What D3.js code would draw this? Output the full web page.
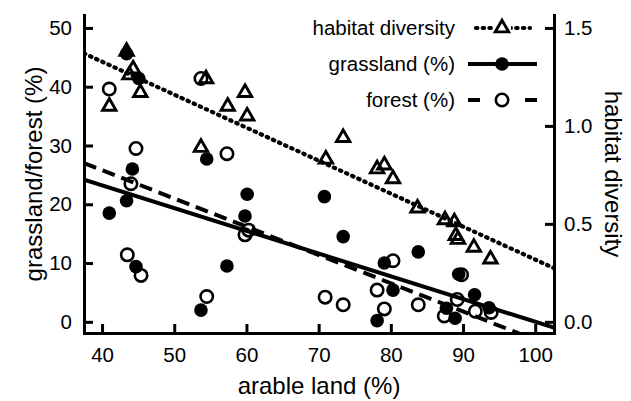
<!DOCTYPE html>
<html>
<head>
<meta charset="utf-8">
<script src="https://cdn.jsdelivr.net/npm/d3@7"></script>
<style>
  body { margin: 0; background: #fff; }
  svg text { font-family: "Liberation Sans", Arial, sans-serif; fill: #000; }
</style>
</head>
<body>
<div id="container"></div>
<script>
// arable land (%) vs habitat diversity (right axis)
var diversity = [
  [41.0, 1.10], [43.4, 1.38], [43.8, 1.26], [44.3, 1.29], [45.3, 1.17],
  [53.7, 0.89], [54.4, 1.24], [57.4, 1.10], [59.8, 1.17], [60.1, 1.05],
  [71.0, 0.83], [73.4, 0.94], [78.1, 0.78], [79.1, 0.80], [80.3, 0.73],
  [83.7, 0.58], [87.5, 0.52], [88.8, 0.51], [89.0, 0.44], [89.3, 0.42],
  [91.5, 0.38], [93.8, 0.32]
];
// arable land (%) vs grassland (%)
var grassland = [
  [41.0, 18.5], [43.4, 20.6], [43.4, 45.6], [44.2, 26.0], [44.7, 9.4],
  [45.1, 41.4], [53.7, 2.0], [54.5, 27.7], [57.3, 9.5], [59.8, 18.0],
  [60.1, 21.7], [70.8, 21.3], [73.4, 14.5], [78.1, 0.2], [79.1, 10.0],
  [80.3, 5.4], [83.8, 11.9], [87.7, 2.3], [88.9, 0.6], [89.4, 8.1],
  [91.6, 4.6], [93.6, 2.4]
];
// arable land (%) vs forest (%)
var forest = [
  [41.0, 39.6], [43.5, 11.4], [44.0, 23.5], [44.7, 29.5], [45.4, 7.9],
  [53.7, 41.4], [54.5, 4.3], [57.3, 28.6], [59.8, 14.8], [60.3, 15.6],
  [70.9, 4.2], [73.4, 2.9], [78.1, 5.4], [79.1, 2.2], [80.3, 10.4],
  [83.8, 2.9], [87.4, 1.0], [89.2, 3.8], [89.8, 8.0], [91.7, 1.8],
  [93.9, 1.6]
];
// fitted lines (end points)
var diversityFit = [[37.5, 1.37], [102.6, 0.274]];
var grasslandFit = [[37.5, 24.2], [102.6, -1.0]];
var forestFit = [[37.5, 27.0], [102.6, -4.3]];

var xTicks = [40, 50, 60, 70, 80, 90, 100];
var yTicks = [0, 10, 20, 30, 40, 50];
var rTicks = [0, 0.5, 1.0, 1.5];
var legendLabels = ["habitat diversity", "grassland (%)", "forest (%)"];

var width = 631, height = 401;
var svg = d3.select("#container").append("svg")
    .attr("width", width)
    .attr("height", height);

var x = d3.scaleLinear().domain([37.5, 102.6]).range([84, 554]);
var y = d3.scaleLinear().domain([-1.9, 52.2]).range([333, 15]);
var yr = d3.scaleLinear().domain([-1.9 / 33.333, 52.2 / 33.333]).range([333, 15]);

svg.append("clipPath").attr("id", "plotclip")
  .append("rect")
    .attr("x", 84).attr("y", 15)
    .attr("width", 470).attr("height", 318);

// fitted lines
var lineL = d3.line().x(function(d) { return x(d[0]); }).y(function(d) { return y(d[1]); });
var lineR = d3.line().x(function(d) { return x(d[0]); }).y(function(d) { return yr(d[1]); });

var dotted = "1.4 5.3";

var fits = svg.append("g").attr("clip-path", "url(#plotclip)").attr("fill", "none").attr("stroke", "#000");
fits.append("path").attr("d", lineR(diversityFit))
    .attr("stroke-width", 4.2).attr("stroke-linecap", "round").attr("stroke-dasharray", dotted);
fits.append("path").attr("d", lineL(grasslandFit))
    .attr("stroke-width", 4);
fits.append("path").attr("d", lineL(forestFit))
    .attr("stroke-width", 4).attr("stroke-dasharray", "13 7");

// points
var tri = d3.symbol().type(d3.symbolTriangle).size(78);

svg.append("g").selectAll("path")
  .data(diversity)
  .enter().append("path")
    .attr("d", tri)
    .attr("transform", function(d) { return "translate(" + x(d[0]) + "," + yr(d[1]) + ")"; })
    .attr("fill", "none").attr("stroke", "#000").attr("stroke-width", 2.9)
    .attr("stroke-linejoin", "miter");

svg.append("g").selectAll("circle")
  .data(forest)
  .enter().append("circle")
    .attr("cx", function(d) { return x(d[0]); })
    .attr("cy", function(d) { return y(d[1]); })
    .attr("r", 6.2)
    .attr("fill", "none").attr("stroke", "#000").attr("stroke-width", 2.6);

svg.append("g").selectAll("circle")
  .data(grassland)
  .enter().append("circle")
    .attr("cx", function(d) { return x(d[0]); })
    .attr("cy", function(d) { return y(d[1]); })
    .attr("r", 6.8)
    .attr("fill", "#000");

// axes
function styleAxis(g) {
  g.select(".domain").attr("stroke-width", 3).attr("stroke-linecap", "square");
  g.selectAll(".tick line").attr("stroke-width", 3);
  g.selectAll(".tick text").style("font-size", "20.5px")
    .style("font-family", "'Liberation Sans', Arial, sans-serif");
}

svg.append("g")
    .attr("transform", "translate(0,333)")
    .call(d3.axisBottom(x).tickValues(xTicks).tickSize(-9).tickSizeOuter(0).tickPadding(12))
    .call(styleAxis)
    .selectAll(".tick text").attr("dy", "0.85em");

svg.append("g")
    .attr("transform", "translate(84,0)")
    .call(d3.axisLeft(y).tickValues(yTicks).tickSize(-9).tickSizeOuter(0).tickPadding(12))
    .call(styleAxis);

svg.append("g")
    .attr("transform", "translate(554,0)")
    .call(d3.axisRight(yr).tickValues(rTicks).tickFormat(d3.format(".1f")).tickSize(-9).tickSizeOuter(0).tickPadding(10))
    .call(styleAxis);

svg.selectAll(".domain, .tick line").attr("stroke", "#000");

// axis titles
svg.append("text")
    .attr("x", 319).attr("y", 394)
    .attr("text-anchor", "middle")
    .style("font-size", "24px")
    .text("arable land (%)");

svg.append("text")
    .attr("transform", "translate(42,174) rotate(-90)")
    .attr("text-anchor", "middle")
    .style("font-size", "24px")
    .text("grassland/forest (%)");

svg.append("text")
    .attr("transform", "translate(605,174) rotate(90)")
    .attr("text-anchor", "middle")
    .style("font-size", "24px")
    .text("habitat diversity");

// legend
var legendY = [28, 64, 100];
var legend = svg.append("g");
legend.selectAll("text")
  .data(legendLabels)
  .enter().append("text")
    .attr("x", 455)
    .attr("y", function(d, i) { return legendY[i]; })
    .attr("dy", "0.35em")
    .attr("text-anchor", "end")
    .style("font-size", "20.5px")
    .text(function(d) { return d; });

legend.append("line")
    .attr("x1", 476).attr("x2", 530).attr("y1", legendY[0]).attr("y2", legendY[0])
    .attr("stroke", "#000").attr("stroke-width", 4.2).attr("stroke-linecap", "round")
    .attr("stroke-dasharray", dotted);
legend.append("rect")
    .attr("x", 493).attr("y", legendY[0] - 9).attr("width", 18).attr("height", 18)
    .attr("fill", "#fff");
legend.append("path")
    .attr("d", tri)
    .attr("transform", "translate(502," + legendY[0] + ")")
    .attr("fill", "none").attr("stroke", "#000").attr("stroke-width", 2.9);

legend.append("line")
    .attr("x1", 468).attr("x2", 537).attr("y1", legendY[1]).attr("y2", legendY[1])
    .attr("stroke", "#000").attr("stroke-width", 4);
legend.append("circle")
    .attr("cx", 502).attr("cy", legendY[1]).attr("r", 6.8).attr("fill", "#000");

legend.append("line")
    .attr("x1", 468).attr("x2", 537).attr("y1", legendY[2]).attr("y2", legendY[2])
    .attr("stroke", "#000").attr("stroke-width", 4).attr("stroke-dasharray", "12 45");
legend.append("circle")
    .attr("cx", 502).attr("cy", legendY[2]).attr("r", 6.2)
    .attr("fill", "none").attr("stroke", "#000").attr("stroke-width", 2.6);
</script>
</body>
</html>
